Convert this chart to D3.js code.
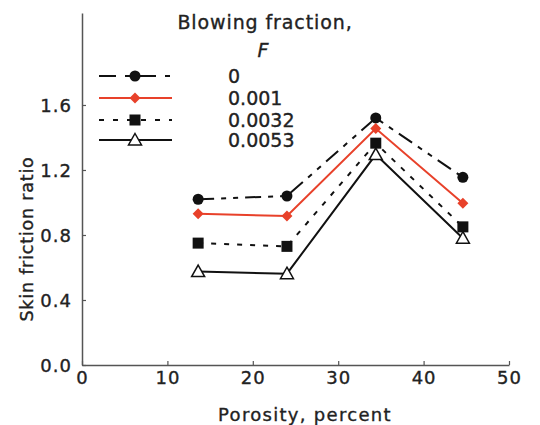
<!DOCTYPE html>
<html>
<head>
<meta charset="utf-8">
<script src="https://cdn.jsdelivr.net/npm/d3@7"></script>
<style>
  body { margin: 0; background: #fff; }
  text { font-family: "DejaVu Sans", "Liberation Sans", Arial, sans-serif; fill: #222; stroke: #222; stroke-width: 0.35px; }
</style>
</head>
<body>
<div id="chart"></div>
<script>
// data
const porosity = [13.6, 24, 34.4, 44.6];
const fractions = ["0", "0.001", "0.0032", "0.0053"];
const ratioF0 = [1.02, 1.04, 1.52, 1.155];
const ratioF001 = [0.93, 0.917, 1.455, 0.995];
const ratioF0032 = [0.75, 0.73, 1.365, 0.85];
const ratioF0053 = [0.575, 0.562, 1.295, 0.78];
const xTicks = [0, 10, 20, 30, 40, 50];
const yTicks = [0, 0.4, 0.8, 1.2, 1.6];

const series = [
    {label: fractions[0], values: ratioF0, color: "#111", dash: "16,7,5,7,5,7", legendDash: "17,9,5,9", marker: "circle"},
    {label: fractions[1], values: ratioF001, color: "#e8412a", dash: null, legendDash: null, marker: "diamond"},
    {label: fractions[2], values: ratioF0032, color: "#111", dash: "5,8", legendDash: "5,9", marker: "square"},
    {label: fractions[3], values: ratioF0053, color: "#111", dash: null, legendDash: null, marker: "triangle"}
];

const width = 540, height = 425;
const svg = d3.select("#chart").append("svg")
    .attr("width", width)
    .attr("height", height);

const xScale = d3.scaleLinear().domain([0, 50]).range([82, 509]);
const yScale = d3.scaleLinear().domain([0, 2.166]).range([365, 13]);

// axes
const axisColor = "#555";
const xAxisG = svg.append("g")
    .attr("transform", "translate(0," + yScale(0) + ")")
    .call(d3.axisBottom(xScale).tickValues(xTicks).tickSizeInner(-4).tickSizeOuter(0));
const yAxisG = svg.append("g")
    .attr("transform", "translate(" + xScale(0) + ",0)")
    .call(d3.axisLeft(yScale).tickValues(yTicks).tickFormat(d3.format(".1f")).tickSizeInner(-4).tickSizeOuter(0).tickPadding(10));

[xAxisG, yAxisG].forEach(g => {
    g.select(".domain").attr("stroke", axisColor).attr("stroke-width", 1.5);
    g.selectAll(".tick line").attr("stroke", axisColor).attr("stroke-width", 1.2);
    g.selectAll(".tick text")
        .style("font-size", "18px")
        .style("letter-spacing", "1px")
        .style("fill", "#222");
});
xAxisG.selectAll(".tick text").attr("y", 19).attr("dy", 0);
yAxisG.selectAll(".tick text").attr("dy", "0.36em");

// axis titles
svg.append("text")
    .attr("text-anchor", "middle")
    .attr("x", 305)
    .attr("y", 421)
    .style("font-size", "18px")
    .style("letter-spacing", "1.3px")
    .text("Porosity, percent");

svg.append("text")
    .attr("text-anchor", "middle")
    .attr("transform", "translate(33," + 239 + ") rotate(-90)")
    .style("font-size", "17.5px")
    .style("letter-spacing", "0.8px")
    .text("Skin friction ratio");

// markers
function drawMarker(g, type, color) {
    if (type === "circle") {
        g.append("circle").attr("r", 5.5).attr("fill", color);
    } else if (type === "diamond") {
        g.append("path").attr("d", "M0,-5.5L5.5,0L0,5.5L-5.5,0Z").attr("fill", color);
    } else if (type === "square") {
        g.append("rect").attr("x", -5.5).attr("y", -5.5).attr("width", 11).attr("height", 11).attr("fill", color);
    } else if (type === "triangle") {
        g.append("path").attr("d", "M0,-6.5L6.5,5L-6.5,5Z")
            .attr("fill", "#fff").attr("stroke", color).attr("stroke-width", 1.5);
    }
}

const line = d3.line()
    .x((d, i) => xScale(porosity[i]))
    .y(d => yScale(d));

// draw lines first, then markers on top
series.forEach(s => {
    svg.append("path")
        .datum(s.values)
        .attr("d", line)
        .attr("fill", "none")
        .attr("stroke", s.color)
        .attr("stroke-width", 2)
        .attr("stroke-dasharray", s.dash);
});
series.forEach(s => {
    s.values.forEach((v, i) => {
        const g = svg.append("g")
            .attr("transform", "translate(" + xScale(porosity[i]) + "," + yScale(v) + ")");
        drawMarker(g, s.marker, s.color);
    });
});

// legend
svg.append("text")
    .attr("text-anchor", "middle")
    .attr("x", 265)
    .attr("y", 29)
    .style("font-size", "19px")
    .style("letter-spacing", "0.9px")
    .text("Blowing fraction,");
svg.append("text")
    .attr("text-anchor", "middle")
    .attr("x", 263)
    .attr("y", 57)
    .style("font-size", "19px")
    .style("font-style", "italic")
    .text("F");

const legendY = [76, 98, 120, 140];
series.forEach((s, i) => {
    const y = legendY[i];
    svg.append("line")
        .attr("x1", 99).attr("x2", 172)
        .attr("y1", y).attr("y2", y)
        .attr("stroke", s.color)
        .attr("stroke-width", 2)
        .attr("stroke-dasharray", s.legendDash);
    const g = svg.append("g").attr("transform", "translate(135," + y + ")");
    drawMarker(g, s.marker, s.color);
    svg.append("text")
        .attr("x", 228)
        .attr("y", y + 7)
        .style("font-size", "19px")
        .text(s.label);
});
</script>
</body>
</html>
